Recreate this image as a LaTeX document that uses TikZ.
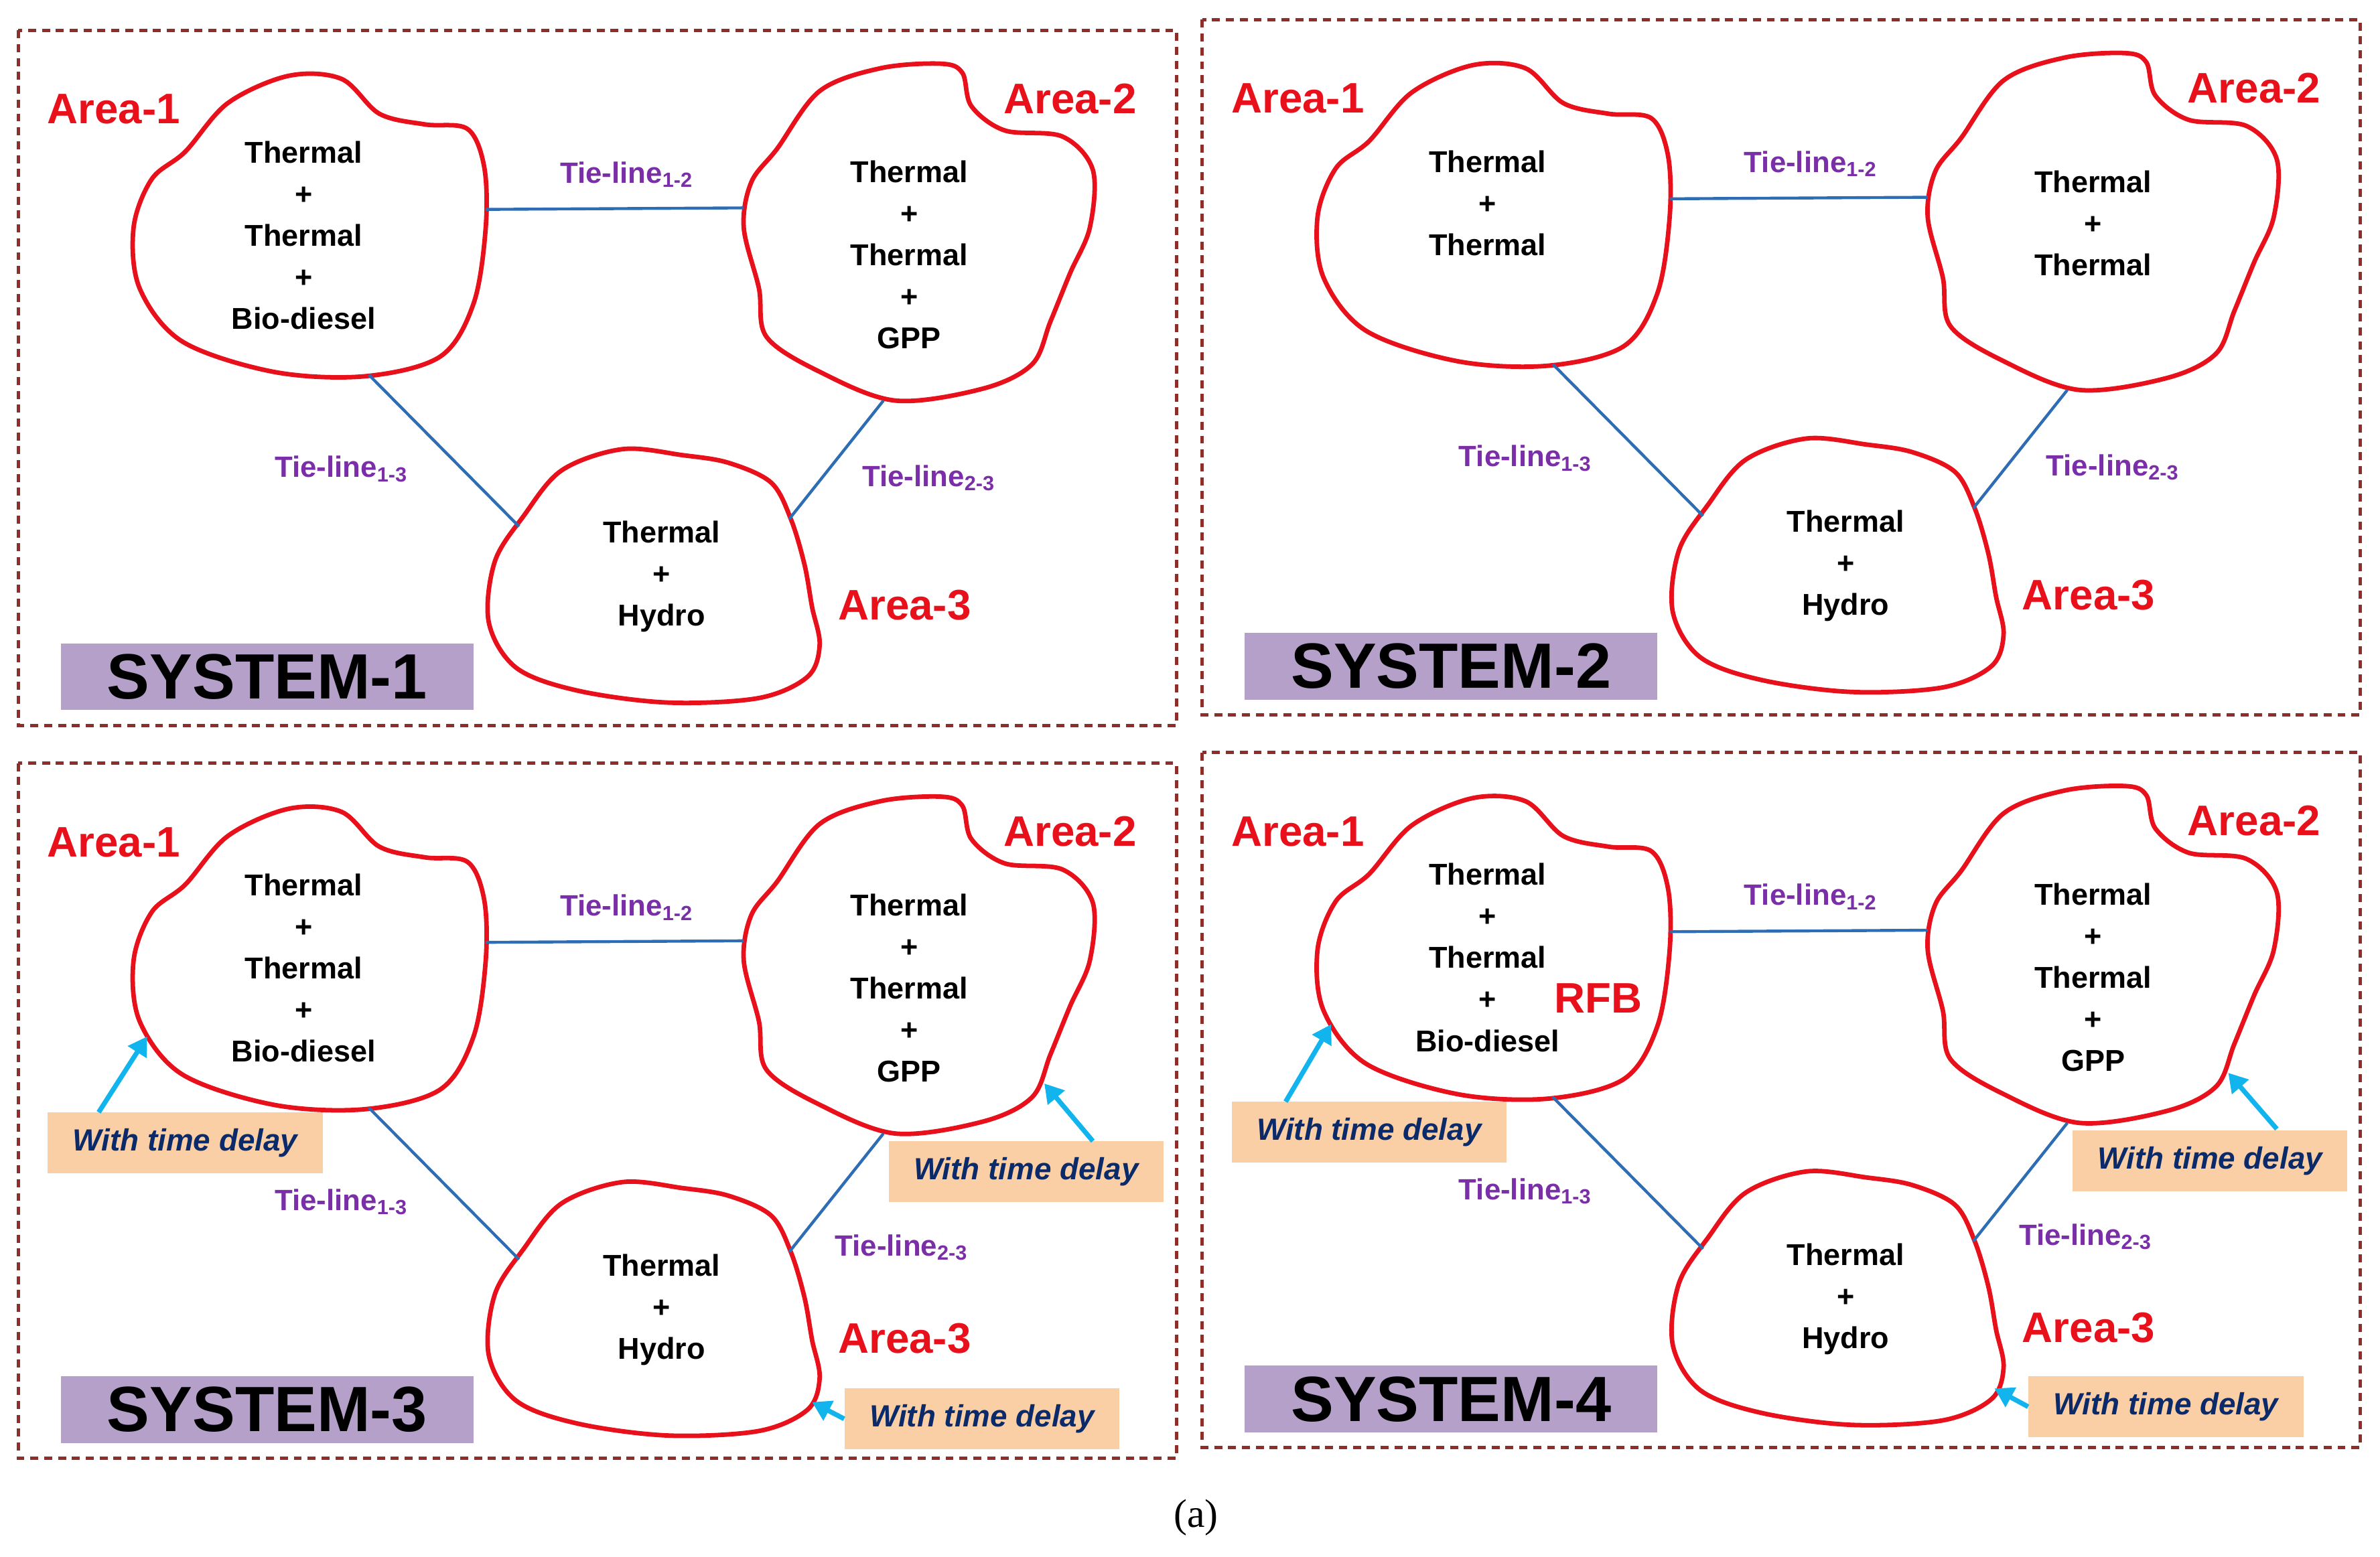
\documentclass[tikz,border=0pt]{standalone}
\usepackage{fontspec}
\setmainfont{Liberation Sans}
\newfontfamily\serifa{Liberation Serif}
\usetikzlibrary{arrows.meta}
\definecolor{blobred}{HTML}{E8101A}
\definecolor{tieblue}{HTML}{2E6DB4}
\definecolor{tiepurple}{HTML}{7A2FA8}
\definecolor{framec}{HTML}{8E2E2A}
\definecolor{syspurple}{HTML}{B4A0C8}
\definecolor{peach}{HTML}{FBCFA6}
\definecolor{navy}{HTML}{0A2A6A}
\definecolor{cyanarrow}{HTML}{12B4EE}
\tikzset{
 blob/.style={draw=blobred,line width=1.7pt},
 areatxt/.style={font=\fontsize{11.3}{15.6}\selectfont\bfseries,align=center},
 arealbl/.style={font=\fontsize{16}{18}\selectfont\bfseries,text=blobred},
 tie/.style={draw=tieblue,line width=1.1pt},
 tielbl/.style={font=\fontsize{11}{13}\selectfont\bfseries,text=tiepurple},
 frame/.style={draw=framec,line width=1.3pt,dash pattern=on 3pt off 2.2pt},
 syslbl/.style={fill=syspurple,font=\fontsize{24}{26}\selectfont\bfseries,minimum width=272*0.02cm,minimum height=44*0.02cm,inner sep=0},
 delay/.style={fill=peach,font=\fontsize{11.5}{13}\selectfont\bfseries\itshape,text=navy,minimum width=181*0.02cm,minimum height=40*0.02cm,inner sep=0},
 darr/.style={draw=cyanarrow,line width=1.8pt,-{Triangle[length=7pt,width=8pt]}}
}
\newcommand\sys[9]{%
 \begin{scope}[shift={(#2,#3)}]
 \draw[frame] (12,20) rectangle (775,478);
 \draw[blob] plot[smooth cycle,tension=0.55] coordinates {(122,100) (150,68) (190,50) (225,52) (250,75) (280,82) (308,85) (319,110) (320,150) (312,200) (290,235) (240,248) (180,245) (120,225) (92,190) (88,150) (100,118)};
 \draw[blob] plot[smooth cycle,tension=0.55] coordinates {(512,98) (540,60) (580,45) (620,42) (634,48) (640,70) (662,86) (700,90) (720,112) (718,150) (705,180) (692,212) (680,240) (648,256) (590,264) (540,245) (505,222) (500,190) (490,150) (495,120)};
 \draw[blob] plot[smooth cycle,tension=0.55] coordinates {(345,340) (370,310) (410,296) (450,300) (480,305) (508,318) (521,342) (530,372) (535,400) (540,425) (532,446) (500,460) (440,463) (380,455) (340,440) (322,410) (326,370)};
 \node[areatxt] (#1t1) at (200,155+#9) {#4};
 \node[areatxt] (#1t2) at (599,168+#9) {#5};
 \node[areatxt] (#1t3) at (436,380) {Thermal\\+\\Hydro};
 \node[arealbl] (#1l1) at (75,72) {Area-1};
 \node[arealbl] (#1l2) at (705,65) {Area-2};
 \node[arealbl] (#1l3) at (596,399) {Area-3};
 \coordinate (#1a) at (320,138); \coordinate (#1b) at (490,137);
 \coordinate (#1c) at (243,247); \coordinate (#1d) at (342,347);
 \coordinate (#1e) at (582,264); \coordinate (#1f) at (520,342);
 \draw[tie] (#1a) -- (#1b);
 \draw[tie] (#1c) -- (#1d);
 \draw[tie] (#1e) -- (#1f);
 \node[tielbl] (#1n12) at (413,115) {Tie-line\textsubscript{1-2}};
 \node[tielbl] (#1n13) at (225,309) {Tie-line\textsubscript{1-3}};
 \node[tielbl] (#1n23) at (#7,#8) {Tie-line\textsubscript{2-3}};
 \node[syslbl] (#1s) at (176,446) {SYSTEM-#6};
 \end{scope}}
\begin{document}
\begin{tikzpicture}[x=0.02cm,y=-0.02cm]
\useasboundingbox (0,0) rectangle (1568,1026);
\sys{A}{0}{0}{Thermal\\+\\Thermal\\+\\Bio-diesel}{Thermal\\+\\Thermal\\+\\GPP}{1}{612}{315}{0}
\sys{B}{780}{-7}{Thermal\\+\\Thermal}{Thermal\\+\\Thermal}{2}{612}{315}{-14}
\sys{C}{0}{483}{Thermal\\+\\Thermal\\+\\Bio-diesel}{Thermal\\+\\Thermal\\+\\GPP}{3}{594}{339}{0}
\sys{D}{780}{476}{Thermal\\+\\Thermal\\+\\Bio-diesel}{Thermal\\+\\Thermal\\+\\GPP}{4}{594}{339}{0}
\node[arealbl] (rfb) at (1053,658) {RFB};
% delays system 3
\node[delay] (d1) at (122,753) {With time delay};
\node[delay] (d2) at (676,772) {With time delay};
\node[delay] (d3) at (647,935) {With time delay};
\coordinate (e1) at (97,683); \coordinate (e2) at (688,714); \coordinate (e3) at (535,924);
\draw[darr] (65,733) -- (e1);
\draw[darr] (720,752) -- (e2);
\draw[darr] (d3.west) -- (e3);
% delays system 4
\node[delay] (d4) at (902,746) {With time delay};
\node[delay] (d5) at (1456,765) {With time delay};
\node[delay] (d6) at (1427,927) {With time delay};
\coordinate (e4) at (877,675); \coordinate (e5) at (1468,707); \coordinate (e6) at (1314,915);
\draw[darr] (847,726) -- (e4);
\draw[darr] (1500,744) -- (e5);
\draw[darr] (d6.west) -- (e6);
\node[font=\serifa\fontsize{15}{17}\selectfont] (cap) at (788,1000) {(a)};
\end{tikzpicture}
\end{document}
